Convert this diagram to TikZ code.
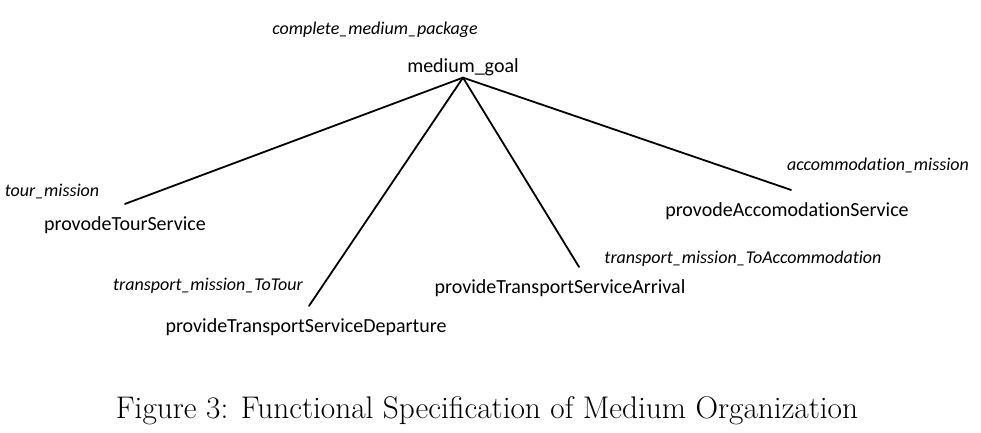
\documentclass[tikz,border=0pt]{standalone}
\usepackage{fontspec}
\newfontfamily\calfont[Ligatures=NoCommon]{Carlito}
\begin{document}
\begin{tikzpicture}[x=1pt,y=-1pt,
  goalnode/.style={font=\calfont\fontsize{20}{24}\selectfont, anchor=base, inner xsep=0pt, inner ysep=2pt},
  childnode/.style={font=\calfont\fontsize{20}{24}\selectfont, anchor=base, inner xsep=0pt, inner ysep=12pt},
  misnode/.style={font=\calfont\itshape\fontsize{18}{22}\selectfont, anchor=base, inner sep=0pt},
  edge/.style={line width=1.8pt, line cap=round}]
\useasboundingbox (0,0) rectangle (981,432);
\node[misnode] (cmp) at (375,34) {complete\_medium\_package};
\node[goalnode] (mg) at (463,72) {medium\_goal};

\node[misnode] (tourm) at (52,196) {tour\_mission};
\node[childnode] (tour) at (125,230) {provodeTourService};

\node[misnode] (depm) at (208,290) {transport\_mission\_ToTour};
\node[childnode] (dep) at (306,332) {provideTransportServiceDeparture};

\node[misnode] (arrm) at (743,263) {transport\_mission\_ToAccommodation};
\node[childnode] (arr) at (560,293) {provideTransportServiceArrival};

\node[misnode] (accm) at (878,170) {accommodation\_mission};
\node[childnode] (acc) at (787,216) {provodeAccomodationService};

\draw[edge] (mg.south) -- (tour.north);
\draw[edge] (mg.south) -- ([xshift=3pt]dep.north);
\draw[edge] (mg.south) -- ([xshift=19pt]arr.north);
\draw[edge] (mg.south) -- ([xshift=4pt]acc.north);

\node[font=\fontsize{31.3}{36}\selectfont, anchor=base, inner sep=0pt] (caption) at (487,418) {Figure 3: Functional Specification of Medium Organization};
\end{tikzpicture}
\end{document}
